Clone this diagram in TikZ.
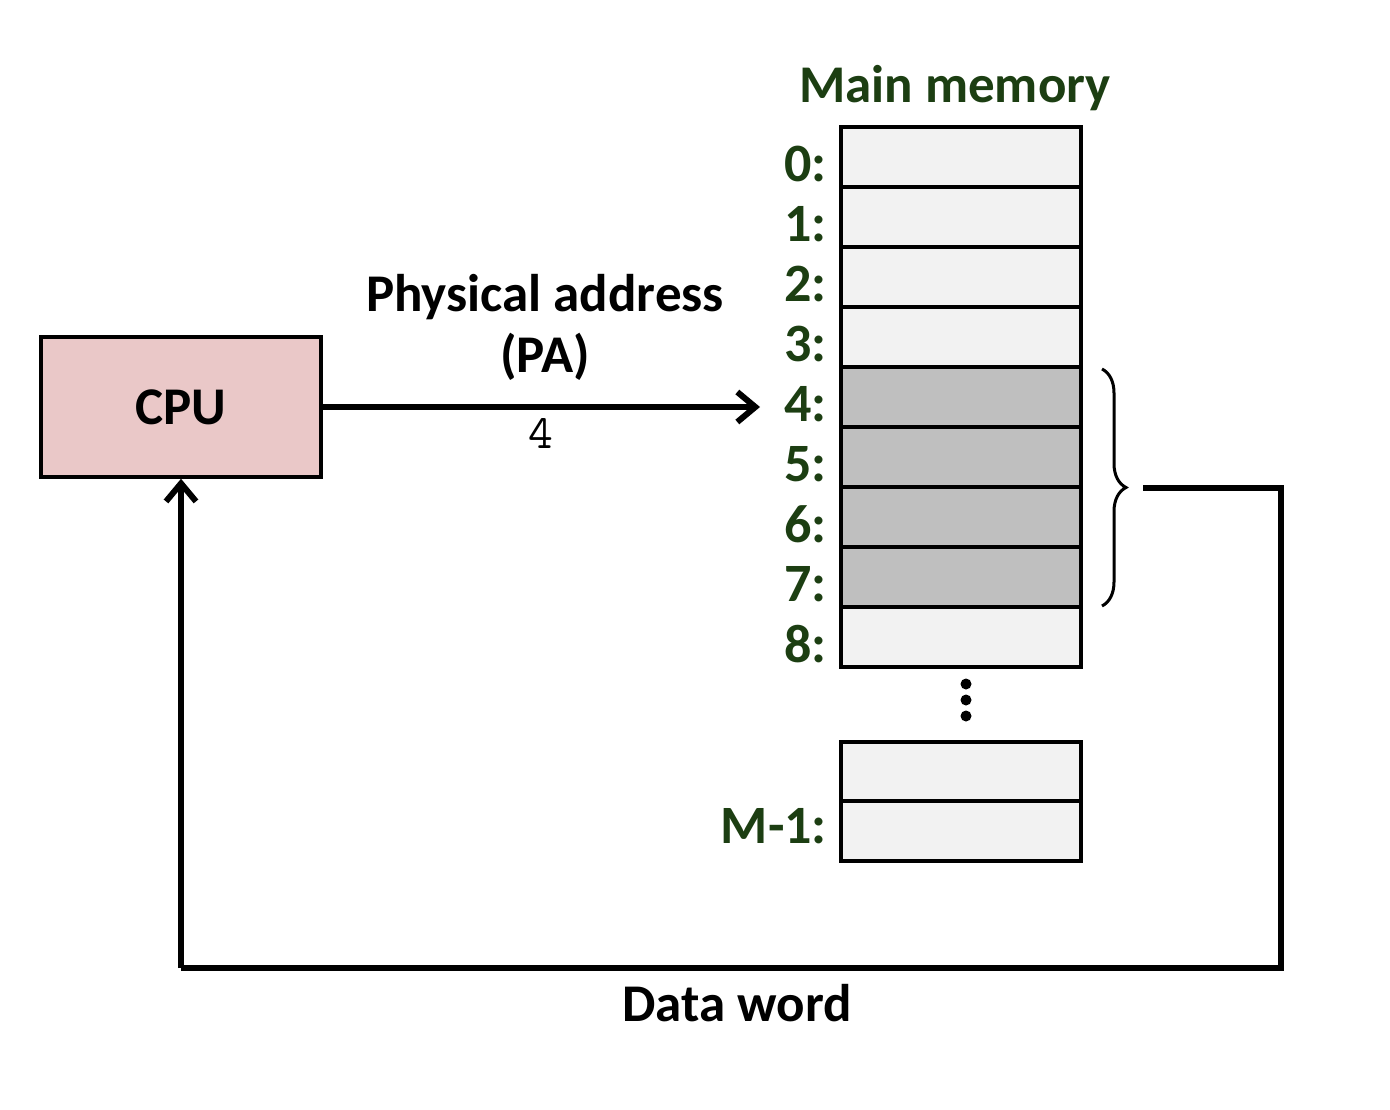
\documentclass[tikz,border=0pt]{standalone}
\usepackage{fontspec}
\setmainfont{Carlito}
\usetikzlibrary{arrows.meta,decorations.pathreplacing}
\definecolor{memgreen}{RGB}{28,62,18}
\definecolor{cpupink}{RGB}{234,200,200}
\definecolor{celllight}{RGB}{242,242,242}
\definecolor{celldark}{RGB}{191,191,191}
\tikzset{
  cell/.style={draw=black, line width=4pt, minimum width=240pt, minimum height=60pt, inner sep=0pt, outer sep=0pt, fill=celllight},
  darkcell/.style={cell, fill=celldark},
  addr/.style={anchor=east, inner sep=0pt, text=memgreen, font=\fontsize{54}{58}\selectfont\bfseries},
  bigtext/.style={inner sep=0pt, font=\fontsize{53}{57}\selectfont\bfseries},
  conn/.style={line width=5.5pt, -{Straight Barb[length=18pt,width=30pt,line width=6pt]}},
  wire/.style={line width=5.5pt},
}
\begin{document}
\begin{tikzpicture}[x=1pt,y=-1pt]
\useasboundingbox (0,0) rectangle (1390,1110);
% CPU
\node[draw=black, line width=3.5pt, fill=cpupink, minimum width=280pt, minimum height=140pt, inner sep=0pt] (cpu) at (181,407) {};
\node[bigtext] (cputxt) at (181,407) {CPU};
% memory cells
\foreach \i/\s in {0/cell,1/cell,2/cell,3/cell,4/darkcell,5/darkcell,6/darkcell,7/darkcell,8/cell}{
  \node[\s] (m\i) at (961,{157+60*\i}) {};
}
\foreach \i in {0,...,8}{
  \node[addr] (l\i) at (827,{164+60*\i}) {\i:};
}
\node[cell] (ma) at (961,772) {};
\node[cell] (mb) at (961,831) {};
\node[addr] (lm) at (827,826) {M-1:};
% dots
\foreach \k/\yy in {1/684,2/700,3/716}{
  \fill (966,\yy) circle (5.5pt);
}
\node[bigtext, text=memgreen] (mmtitle) at (955,88) {Main memory};
% address arrow
\coordinate (pa) at (760,407);
\draw[conn] (cpu.east) -- (pa);
\node[bigtext] (patxt) at (545,297) {Physical address};
\node[bigtext] (patxt2) at (545,357) {(PA)};
\node[inner sep=0pt, font=\fontsize{48}{52}\selectfont\ttfamily] (four) at (541,433) {4};
% brace
\coordinate (bt) at (1102,369);
\coordinate (bb) at (1102,606);
\draw[line width=3pt, decorate, decoration={brace, amplitude=24pt, raise=0pt}] (bt) -- (bb);
% data word return path
\coordinate (d1) at (1143,488);
\coordinate (d2) at (1281,488);
\coordinate (d3) at (1281,968);
\coordinate (d4) at (181,968);
\draw[wire] (d1) -- (d2) -- (d3) -- (d4);
\draw[conn] (d4) -- (cpu.south);
\node[bigtext] (dw) at (737,1003) {Data word};
\end{tikzpicture}
\end{document}
